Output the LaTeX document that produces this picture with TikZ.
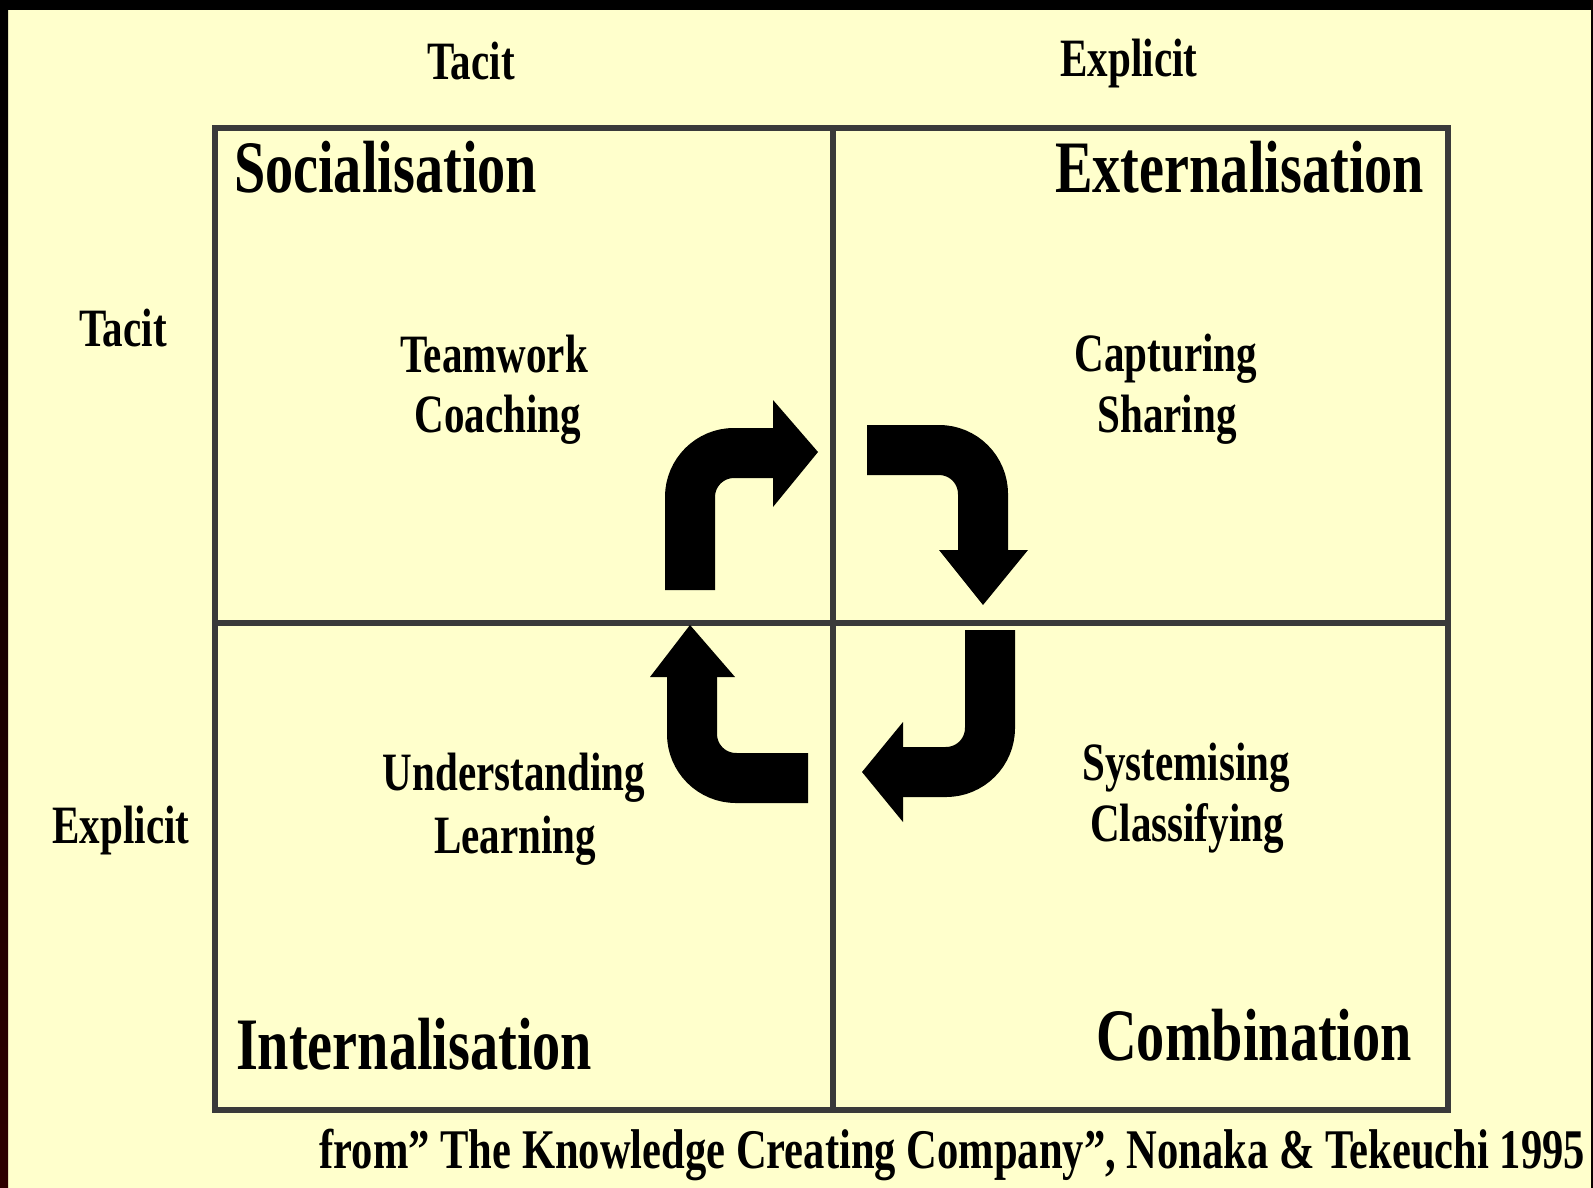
\documentclass[tikz,border=0pt]{standalone}
\usepackage{fontspec}
\newfontfamily\condserif[FakeStretch=0.76]{Liberation Serif}
\definecolor{paper}{HTML}{FFFFCC}
\definecolor{rule}{HTML}{3A3A3A}
\definecolor{edgered}{HTML}{2E0000}
\begin{document}
\begin{tikzpicture}[x=1pt,y=-1pt,
  every node/.style={inner sep=0pt, outer sep=0pt, text=black},
  heading/.style={font=\condserif\bfseries\fontsize{74}{74}\selectfont},
  axis/.style={font=\condserif\bfseries\fontsize{54}{54}\selectfont},
  activity/.style={font=\condserif\bfseries\fontsize{54}{62}\selectfont},
  source/.style={font=\condserif\bfseries\fontsize{56}{56}\selectfont},
  grid/.style={draw=rule, line width=6pt},
  cycshaft/.style={draw=black, line width=50pt, rounded corners=44pt, line cap=butt},
  cychead/.style={fill=black}]
\useasboundingbox (0,0) rectangle (1593,1188);
% page and frame edges
\fill[paper] (0,0) rectangle (1593,1188);
\fill[black] (0,0) rectangle (1593,10);
\shade[top color=black, bottom color=edgered] (0,0) rectangle (8,1188);
\fill[black!80!edgered] (1591,0) rectangle (1593,1188);

% the four-quadrant matrix
\coordinate (nw) at (215,128);
\coordinate (se) at (1448,1110);
\coordinate (mt) at (833,128);
\coordinate (mb) at (833,1110);
\coordinate (ml) at (215,623);
\coordinate (mr) at (1448,623);
\draw[grid] (nw) rectangle (se);
\draw[grid] (mt) -- (mb);
\draw[grid] (ml) -- (mr);

% axis labels
\node[axis, anchor=base] (toptacit) at (471,80) {Tacit};
\node[axis, anchor=base] (topexplicit) at (1129,77) {Explicit};
\node[axis, anchor=base] (lefttacit) at (123,346) {Tacit};
\node[axis, anchor=base] (leftexplicit) at (121,843) {Explicit};

% quadrant titles
\node[heading, anchor=base west] (soc) at (234,193) {Socialisation};
\node[heading, anchor=base east] (ext) at (1424,193) {Externalisation};
\node[heading, anchor=base west] (int) at (236,1069) {Internalisation};
\node[heading, anchor=base east] (com) at (1412,1060) {Combination};

% activities in each quadrant
\node[activity, anchor=base] (teamwork) at (494,372) {Teamwork};
\node[activity, anchor=base] (coaching) at (498,432) {Coaching};
\node[activity, anchor=base] (capturing) at (1166,371) {Capturing};
\node[activity, anchor=base] (sharing) at (1167,432) {Sharing};
\node[activity, anchor=base] (understanding) at (514,790) {Understanding};
\node[activity, anchor=base] (learning) at (515,853) {Learning};
\node[activity, anchor=base] (systemising) at (1186,780) {Systemising};
\node[activity, anchor=base] (classifying) at (1187,841) {Classifying};

% knowledge spiral arrows
\draw[cycshaft] (690,590) -- (690,453) -- (776,453);
\fill[cychead] (773,400) -- (818,452) -- (773,507) -- cycle;
\draw[cycshaft] (867,450) -- (983,450) -- (983,553);
\fill[cychead] (939,550) -- (1028,550) -- (983,605) -- cycle;
\draw[cycshaft] (990,630) -- (990,772) -- (900,772);
\fill[cychead] (903,722) -- (903,822) -- (862,772) -- cycle;
\draw[cycshaft] (808,778) -- (692,778) -- (692,674);
\fill[cychead] (650,677) -- (735,677) -- (690,625) -- cycle;

% source line
\node[source, anchor=base east] (cite) at (1585,1168) {from” The Knowledge Creating Company”, Nonaka \& Tekeuchi 1995};
\end{tikzpicture}
\end{document}
